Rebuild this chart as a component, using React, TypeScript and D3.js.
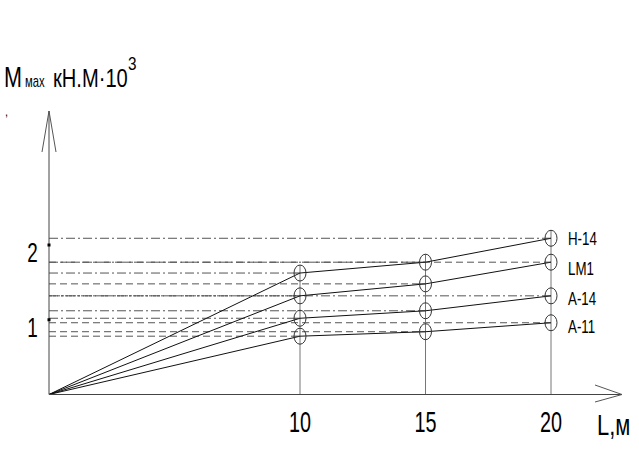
import React from "react";
import * as d3 from "d3";

const lengths = [10, 15, 20];
const seriesNames = ["H-14", "LM1", "A-14", "A-11"];
const h14 = [1.625, 1.77, 2.09];
const lm1 = [1.32, 1.48, 1.77];
const a14 = [1.02, 1.12, 1.32];
const a11 = [0.78, 0.84, 0.96];
const yTicks = [1, 2];
const xTicks = [10, 15, 20];

const W = 639;
const H = 456;
const FONT = "'Liberation Sans', Arial, sans-serif";

const DASHDOT = "9,3,2,3";
const DASHED = "7,4";
const lineDash: string[][] = [
  [DASHDOT, DASHDOT, DASHDOT],
  ["3,1", DASHED, DASHED],
  [DASHDOT, DASHDOT, DASHDOT],
  [DASHED, DASHED, DASHED],
];
const labelDy = [7, 13, 9, 10];

type NTProps = {
  x: number;
  y: number;
  size: number;
  sx?: number;
  anchor?: "start" | "middle" | "end";
  children: React.ReactNode;
};

function NText({ x, y, size, sx = 0.72, anchor = "start", children }: NTProps) {
  return (
    <text
      transform={`translate(${x},${y}) scale(${sx},1)`}
      fontFamily={FONT}
      fontSize={size}
      textAnchor={anchor}
      fill="#000"
    >
      {children}
    </text>
  );
}

export default function App() {
  const x = d3.scaleLinear().domain([0, 20]).range([49, 551]);
  const y = d3.scaleLinear().domain([0, 2]).range([394.5, 245]);
  const series = [h14, lm1, a14, a11];
  const line = d3
    .line<[number, number]>()
    .x((d) => x(d[0]))
    .y((d) => y(d[1]));
  const rx = 6;
  const ry = 8;
  const x0 = x(0);
  const y0 = y(0);

  return (
    <div style={{ position: "absolute", left: 0, top: 0 }}>
      <svg width={W} height={H} style={{ display: "block", background: "#fff" }}>
        <rect width={W} height={H} fill="#fff" />
        {/* horizontal projection lines */}
        {series.map((vals, si) =>
          vals.map((v, i) => (
            <line
              key={`h${si}-${i}`}
              x1={x0}
              x2={x(lengths[i]) - rx}
              y1={y(v)}
              y2={y(v)}
              stroke="#555"
              strokeWidth={1}
              strokeDasharray={lineDash[si][i]}
            />
          ))
        )}
        {/* vertical lines */}
        {lengths.map((L, i) => (
          <line
            key={`v${i}`}
            x1={x(L)}
            x2={x(L)}
            y1={y0}
            y2={y(h14[i]) - ry}
            stroke="#777"
            strokeWidth={1}
          />
        ))}
        {/* series lines */}
        {series.map((vals, si) => {
          const pts: [number, number][] = [[0, 0], ...vals.map((v, i) => [lengths[i], v] as [number, number])];
          return <path key={`s${si}`} d={line(pts) || ""} fill="none" stroke="#111" strokeWidth={1} />;
        })}
        {/* circles */}
        {series.map((vals, si) =>
          vals.map((v, i) => (
            <g key={`c${si}-${i}`}>
              <ellipse cx={x(lengths[i])} cy={y(v)} rx={rx} ry={ry} fill="none" stroke="#333" strokeWidth={1} />
              <line x1={x(lengths[i]) - rx} x2={x(lengths[i])} y1={y(v)} y2={y(v)} stroke="#333" strokeWidth={1} />
            </g>
          ))
        )}
        {/* axes */}
        <line x1={x0} x2={x0} y1={y0} y2={111} stroke="#444" strokeWidth={1} />
        <line x1={x0} x2={42} y1={111} y2={152} stroke="#555" strokeWidth={1} />
        <line x1={x0} x2={56} y1={111} y2={152} stroke="#555" strokeWidth={1} />
        <line x1={x0} x2={622} y1={y0} y2={y0} stroke="#444" strokeWidth={1} />
        <line x1={622} x2={595} y1={y0} y2={385} stroke="#555" strokeWidth={1} />
        <line x1={622} x2={595} y1={y0} y2={402} stroke="#555" strokeWidth={1} />
        {/* y ticks */}
        {yTicks.map((t) => (
          <g key={`yt${t}`}>
            <rect x={x0 - 1.5} y={y(t) - 1.5} width={3} height={3} fill="#000" />
            <NText x={32.5} y={y(t) + 17} size={27} sx={0.7} anchor="middle">
              {t}
            </NText>
          </g>
        ))}
        {/* x ticks */}
        {xTicks.map((t) => (
          <NText key={`xt${t}`} x={x(t)} y={432} size={30} sx={0.66} anchor="middle">
            {t}
          </NText>
        ))}
        <NText x={597} y={435} size={30} sx={0.73}>
          L,м
        </NText>
        {/* series labels */}
        {seriesNames.map((n, si) => (
          <NText key={`lab${si}`} x={568} y={y(series[si][2]) + labelDy[si]} size={18} sx={0.74}>
            {n}
          </NText>
        ))}
        {/* y axis title */}
        <NText x={4} y={87} size={30} sx={0.72}>
          М
        </NText>
        <NText x={25} y={87} size={17} sx={0.66}>
          мах
        </NText>
        <NText x={53} y={87} size={26.5} sx={0.76}>
          кН.М·10
        </NText>
        <NText x={128} y={70} size={18} sx={0.85}>
          3
        </NText>
        <NText x={5} y={116} size={12} sx={0.9}>
          ,
        </NText>
      </svg>
    </div>
  );
}
